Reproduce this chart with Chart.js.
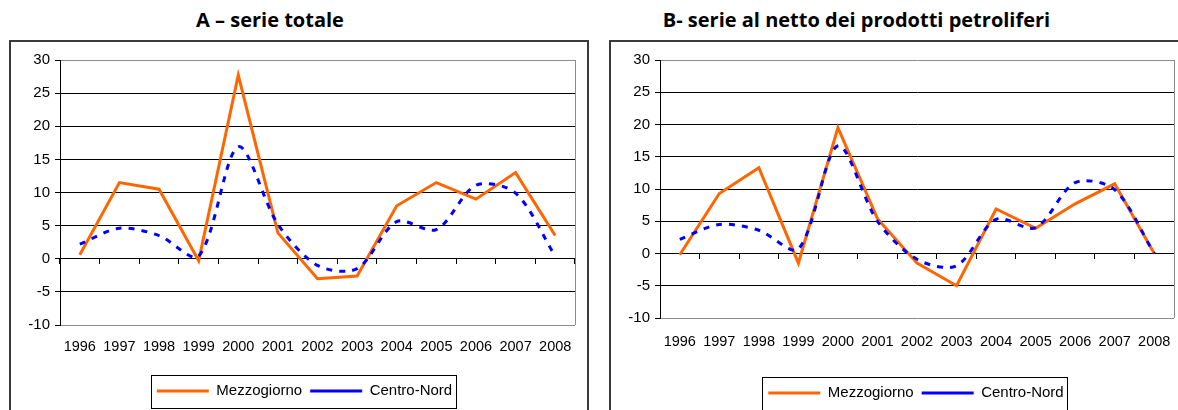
<!DOCTYPE html>
<html><head><meta charset="utf-8">
<script src="https://cdn.jsdelivr.net/npm/chart.js@4"></script>
<style>
html,body{margin:0;padding:0;background:#fff;overflow:hidden;width:1178px;height:410px;position:relative;}
.title{position:absolute;top:6px;font-family:'Open Sans','DejaVu Sans',sans-serif;font-weight:bold;font-size:20px;line-height:27px;text-align:center;color:#000;white-space:nowrap;}
.box{position:absolute;border:2px solid #3a3a3a;box-sizing:border-box;}
canvas{position:absolute;}
</style></head><body>
<div class="title" style="left:0;width:540px;">A – serie totale</div>
<div class="title" style="left:600px;width:513px;">B- serie al netto dei prodotti petroliferi</div>
<div class="box" style="left:9px;top:40px;width:580px;height:420px;"></div>
<div class="box" style="left:609px;top:40px;width:640px;height:420px;"></div>
<canvas id="cA" width="578" height="370" style="left:10px;top:40px;"></canvas>
<canvas id="cB" width="612" height="372" style="left:610px;top:40px;"></canvas>
<script>
const years = ['1996','1997','1998','1999','2000','2001','2002','2003','2004','2005','2006','2007','2008'];
const yTicks = [-10,-5,0,5,10,15,20,25,30];
const seriesNames = ['Mezzogiorno','Centro-Nord'];
// A – serie totale
const mezzA = [0.6, 11.5, 10.5, -0.3, 27.7, 3.9, -3.0, -2.6, 8.0, 11.5, 9.0, 13.0, 3.5];
const cnA   = [2.2, 4.6, 3.5, 0.4, 16.9, 5.2, -1.0, -1.5, 5.6, 4.4, 11.1, 9.9, 0.4];
// B – serie al netto dei prodotti petroliferi
const mezzB = [-0.2, 9.3, 13.3, -1.5, 19.5, 5.4, -1.5, -5.0, 6.9, 3.9, 7.7, 10.8, 0.0];
const cnB   = [2.2, 4.5, 3.6, 0.7, 16.7, 5.0, -0.9, -1.9, 5.3, 4.0, 11.0, 9.9, 0.0];

Chart.defaults.font.family = "'Liberation Sans', Arial, sans-serif";
Chart.defaults.color = '#000';

const framePlugin = {
  id: 'frame',
  afterLayout(chart, args, opts) {
    const lg = chart.legend;
    if (lg && opts.legendShift) { lg.left += opts.legendShift; lg.right += opts.legendShift; }
  },
  beforeDatasetsDraw(chart) {
    const {ctx, chartArea: a} = chart;
    ctx.save();
    ctx.strokeStyle = '#8c8c8c';
    ctx.lineWidth = 1;
    ctx.beginPath();
    ctx.moveTo(Math.round(a.right) + 0.5, a.top);
    ctx.lineTo(Math.round(a.right) + 0.5, a.bottom);
    ctx.stroke();
    ctx.restore();
  },
  afterDraw(chart) {
    const lg = chart.legend;
    if (!lg || !lg.legendHitBoxes || !lg.legendHitBoxes.length) return;
    const hb = lg.legendHitBoxes;
    let l = Infinity, r = -Infinity, cy = 0;
    hb.forEach(h => { l = Math.min(l, h.left); r = Math.max(r, h.left + h.width); cy += h.top + h.height / 2; });
    cy /= hb.length;
    const ctx = chart.ctx;
    ctx.save();
    ctx.strokeStyle = '#000';
    ctx.lineWidth = 1;
    ctx.strokeRect(Math.round(l - 6) + 0.5, Math.round(cy - 16.5) + 0.5, Math.round(r - l + 10), 33);
    ctx.restore();
  }
};

function makeChart(id, mezz, cn, g) {
  return new Chart(document.getElementById(id), {
    type: 'line',
    data: {
      labels: years,
      datasets: [
        {label: seriesNames[0], data: mezz, borderColor: '#FF6600', backgroundColor: 'transparent',
         borderWidth: 3, pointRadius: 0, tension: 0, order: 1},
        {label: seriesNames[1], data: cn, borderColor: '#0000FF', backgroundColor: 'transparent',
         borderWidth: 3, borderDash: [6, 7], pointRadius: 0, tension: 0.3, order: 0}
      ]
    },
    options: {
      responsive: false,
      animation: false,
      devicePixelRatio: 1,
      layout: {padding: {left: 0, top: 20, right: g.padRight, bottom: g.padBottom}},
      plugins: {
        frame: {legendShift: g.legendShift},
        tooltip: {enabled: false},
        title: {display: false},
        legend: {
          position: 'bottom',
          labels: {
            usePointStyle: true, pointStyle: 'line', pointStyleWidth: 52,
            font: {size: 15}, color: '#000', padding: 8,
            sort: (a, b) => a.datasetIndex - b.datasetIndex
          }
        }
      },
      scales: {
        y: {
          min: -10, max: 30,
          afterBuildTicks: s => { s.ticks = yTicks.map(v => ({value: v})); },
          afterFit: s => { s.width = 50; },
          ticks: {font: {size: 15}, color: '#000', padding: 5},
          grid: {
            color: c => (c.tick && (c.tick.value === 30 || c.tick.value === -10)) ? '#8c8c8c' : '#000',
            lineWidth: 1, drawTicks: true, tickLength: 5, tickColor: '#000'
          },
          border: {display: true, color: '#000', width: 1}
        },
        x: {
          type: 'category', offset: true, position: 'bottom',
          afterFit: s => { s.height = g.xHeight; },
          grid: {display: false, drawTicks: false},
          border: {display: false},
          ticks: {font: {size: 14.5}, color: '#000', padding: g.xPad, maxRotation: 0, autoSkip: false}
        },
        x2: {
          type: 'category', labels: years, offset: true, position: {y: 0},
          grid: {offset: true, drawOnChartArea: false, drawTicks: true, tickLength: 5, color: '#000'},
          border: {display: true, color: '#000', width: 1},
          ticks: {display: false}
        }
      }
    },
    plugins: [framePlugin]
  });
}

makeChart('cA', mezzA, cnA, {padRight: 13, padBottom: 1.5, xHeight: 50.5, xPad: 13, legendShift: 12});
makeChart('cB', mezzB, cnB, {padRight: 48, padBottom: 1.5, xHeight: 59.5, xPad: 15, legendShift: 24});
</script>
</body></html>
